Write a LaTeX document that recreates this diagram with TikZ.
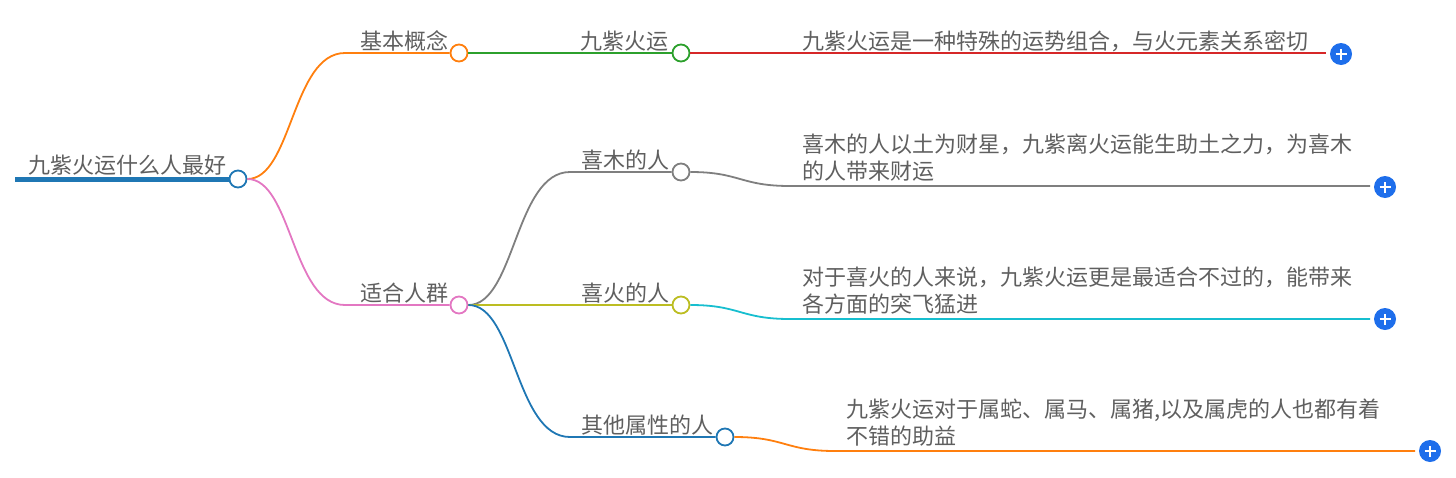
\documentclass[tikz,border=0pt]{standalone}
\usepackage{fontspec}
\setmainfont{Noto Sans CJK SC}
\definecolor{txtc}{RGB}{95,95,95}
\definecolor{cblue}{RGB}{31,119,180}
\definecolor{corange}{RGB}{255,127,14}
\definecolor{cgreen}{RGB}{44,160,44}
\definecolor{cred}{RGB}{214,39,40}
\definecolor{cpink}{RGB}{227,119,194}
\definecolor{cgray}{RGB}{127,127,127}
\definecolor{colive}{RGB}{188,189,34}
\definecolor{ccyan}{RGB}{23,190,207}
\definecolor{cplus}{RGB}{30,110,235}
\begin{document}
\begin{tikzpicture}[x=1pt,y=-1pt,
  txt/.style={inner sep=0pt,text=txtc,font=\fontsize{22}{26.5}\selectfont,anchor=base west},
  dtxt/.style={txt,align=left,anchor=north west},
  knob/.style={circle,draw=#1,fill=white,line width=1.8pt,minimum size=17pt,inner sep=0pt},
  edge/.style={draw=#1,line width=1.8pt},
  plusbtn/.style={circle,fill=cplus,minimum size=22pt,inner sep=0pt,
    path picture={\draw[white,line width=2.2pt]
      ([xshift=-5.5pt]path picture bounding box.center)--([xshift=5.5pt]path picture bounding box.center)
      ([yshift=-5.5pt]path picture bounding box.center)--([yshift=5.5pt]path picture bounding box.center);}}
]
\useasboundingbox (0,0) rectangle (1456,477);

% coordinates
\coordinate (r0) at (15,179);
\coordinate (a1) at (345,53);
\coordinate (a2) at (345,305);
\coordinate (b2) at (570,172);
\coordinate (b4) at (570,437);
\coordinate (c1) at (790,53);
\coordinate (c2) at (790,186);
\coordinate (c3) at (790,319);
\coordinate (c4) at (835,451);
\coordinate (e1) at (1326,53);
\coordinate (e2) at (1370,186);
\coordinate (e3) at (1370,319);
\coordinate (e4) at (1415,451);

% root line
\draw[cblue,line width=5pt] (r0) -- (230,179);

% knobs
\node[knob=cblue] (root) at (238,179) {};
\node[knob=corange] (k1) at (459,53) {};
\node[knob=cpink] (k2) at (459,305) {};
\node[knob=cgreen] (k11) at (681,53) {};
\node[knob=cgray] (k21) at (681,172) {};
\node[knob=colive] (k22) at (681,305) {};
\node[knob=cblue] (k23) at (725,437) {};

\node[plusbtn] (p1) at (1341,54) {};
\node[plusbtn] (p2) at (1385,187) {};
\node[plusbtn] (p3) at (1385,319) {};
\node[plusbtn] (p4) at (1430,451) {};

% edges
\draw[edge=corange] (root.east) .. controls (292,179) and (292,53) .. (a1) -- (k1.west);
\draw[edge=cpink] (root.east) .. controls (292,179) and (292,305) .. (a2) -- (k2.west);
\draw[edge=cgreen] (k1.east) -- (k11.west);
\draw[edge=cred] (k11.east) -- (c1) -- (e1);
\draw[edge=cgray] (k2.east) .. controls (515,305) and (515,172) .. (b2) -- (k21.west);
\draw[edge=colive] (k2.east) -- (k22.west);
\draw[edge=cblue] (k2.east) .. controls (515,305) and (515,437) .. (b4) -- (k23.west);
\draw[edge=cgray] (k21.east) .. controls (740,172) and (740,186) .. (c2) -- (e2);
\draw[edge=ccyan] (k22.east) .. controls (740,305) and (740,319) .. (c3) -- (e3);
\draw[edge=corange] (k23.east) .. controls (785,437) and (785,451) .. (c4) -- (e4);

% texts
\node[txt] (troot) at (28,173) {九紫火运什么人最好};
\node[txt] (t1) at (360,49) {基本概念};
\node[txt] (t2) at (360,301) {适合人群};
\node[txt] (t11) at (580,49) {九紫火运};
\node[txt] (t21) at (581,168) {喜木的人};
\node[txt] (t22) at (581,301) {喜火的人};
\node[txt] (t23) at (581,433) {其他属性的人};
\node[txt] (d1) at (802,49) {九紫火运是一种特殊的运势组合，与火元素关系密切};
\node[dtxt] (d2) at (802,134) {喜木的人以土为财星，九紫离火运能生助土之力，为喜木\\的人带来财运};
\node[dtxt] (d3) at (802,267) {对于喜火的人来说，九紫火运更是最适合不过的，能带来\\各方面的突飞猛进};
\node[dtxt] (d4) at (846,399) {九紫火运对于属蛇、属马、属猪,以及属虎的人也都有着\\不错的助益};
\end{tikzpicture}
\end{document}
